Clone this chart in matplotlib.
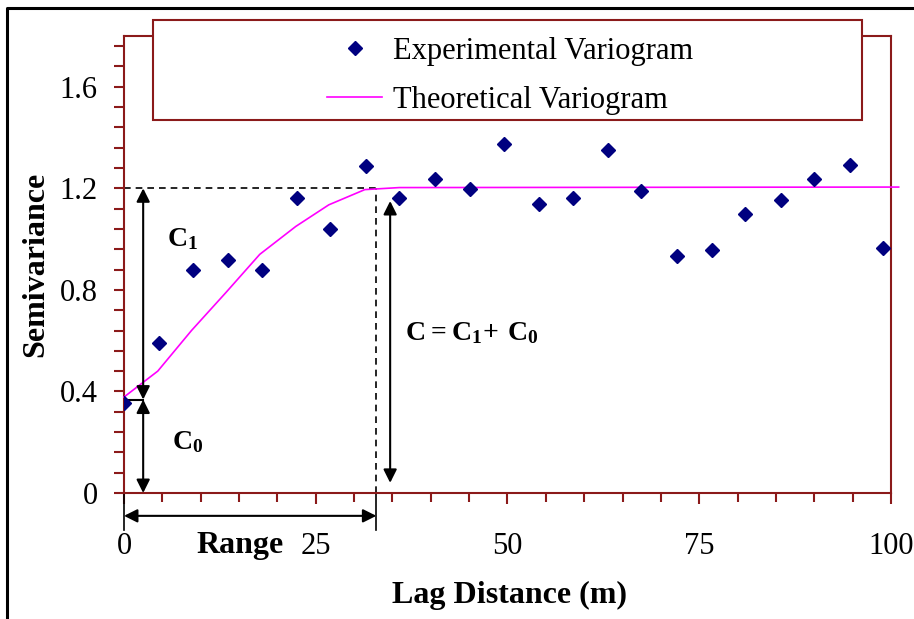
import matplotlib
matplotlib.use('Agg')
import matplotlib.pyplot as plt
from matplotlib.ticker import MultipleLocator
from matplotlib.patches import Rectangle
from matplotlib.lines import Line2D

plt.rcParams['font.family'] = ['Liberation Serif', 'DejaVu Serif']
plt.rcParams['mathtext.fontset'] = 'custom'
plt.rcParams['mathtext.rm'] = 'Liberation Serif'
plt.rcParams['mathtext.bf'] = 'Liberation Serif:bold'

# Experimental variogram
lag = [0, 4.6, 9.0, 13.6, 18.0, 22.6, 26.9, 31.5, 35.9, 40.5, 45.1, 49.5,
       54.1, 58.5, 63.1, 67.4, 72.1, 76.6, 81.0, 85.6, 90.0, 94.6, 98.9]
gamma = [0.353, 0.589, 0.877, 0.916, 0.877, 1.162, 1.039, 1.286, 1.162,
         1.236, 1.197, 1.375, 1.140, 1.163, 1.350, 1.188, 0.933, 0.958,
         1.097, 1.153, 1.236, 1.293, 0.966]

# Theoretical (fitted) variogram
model_lag = [0, 4.4, 8.8, 13.3, 17.7, 22.4, 26.7, 31.4, 35.9, 101]
model_gamma = [0.378, 0.48, 0.64, 0.79, 0.94, 1.05, 1.135, 1.195, 1.203, 1.205]

# model parameters used for the annotations
nugget = 0.368
sill = 1.2
vrange = 32.9

maroon = '#8B1A1A'

fig = plt.figure(figsize=(9.14, 6.19), dpi=100)
ax = fig.add_axes([124 / 914, 1 - 493 / 619, 767 / 914, 457 / 619])

ax.plot(lag, gamma, linestyle='none', marker='D', markersize=7,
        color='#000080', label='Experimental Variogram', zorder=4)
ax.plot(model_lag, model_gamma, color='#FF00FF', lw=1.2,
        label='Theoretical Variogram', clip_on=False, zorder=3)

ax.set_xlim(0, 100)
ax.set_ylim(0, 1.8)
ax.xaxis.set_major_locator(MultipleLocator(25))
ax.xaxis.set_minor_locator(MultipleLocator(5))
ax.set_yticks([0, 0.4, 0.8, 1.2, 1.6])
ax.set_yticklabels(['0', '0.4', '0.8', '1.2', '1.6'])
ax.yaxis.set_minor_locator(MultipleLocator(0.08))

for s in ax.spines.values():
    s.set_color(maroon)
    s.set_linewidth(1.5)
ax.tick_params(which='both', direction='out', color=maroon, width=1.5,
               labelsize=22)
ax.tick_params(axis='y', which='both', length=7, pad=12)
ax.tick_params(axis='x', which='major', length=8, pad=20)
ax.tick_params(axis='x', which='minor', length=6.5)

ax.set_xlabel('Lag Distance (m)', fontsize=23, fontweight='bold')
ax.set_ylabel('Semivariance', fontsize=23, fontweight='bold')
ax.xaxis.label.set_va('center')
ax.yaxis.label.set_va('center')
ax.xaxis.set_label_coords(0.502, (493 - 595) / 457)
ax.yaxis.set_label_coords((36 - 124) / 767, 0.5)

# sill / range guide lines
ax.plot([0, vrange], [sill, sill], 'k--', lw=1.2, dashes=(4, 3))
ax.plot([vrange, vrange], [0, sill], 'k--', lw=1.2, dashes=(4, 3))
ax.plot([0, 0], [0, -0.145], 'k-', lw=1.2, clip_on=False)
ax.plot([vrange, vrange], [0, -0.145], 'k-', lw=1.2, clip_on=False)
ax.plot([0, 2.5], [nugget, nugget], 'k-', lw=1.5)

arrow = dict(arrowstyle='<|-|>', color='black', lw=1.5,
             mutation_scale=20, shrinkA=0, shrinkB=0)
ax.annotate('', xy=(0, -0.09), xytext=(vrange, -0.09),
            arrowprops=arrow, annotation_clip=False)
ax.annotate('', xy=(2.5, sill), xytext=(2.5, nugget), arrowprops=arrow)
ax.annotate('', xy=(2.5, nugget), xytext=(2.5, 0), arrowprops=arrow)
ax.annotate('', xy=(34.7, 1.15), xytext=(34.7, 0.04), arrowprops=arrow)

ax.text(15.1, -0.205, 'Range', fontsize=23, fontweight='bold',
        ha='center', va='center', clip_on=False)
ax.text(5.6, 1.0, r'$\mathbf{C_1}$', fontsize=20, ha='left', va='center')
ax.text(6.2, 0.2, r'$\mathbf{C_0}$', fontsize=20, ha='left', va='center')
ax.text(36.6, 0.63, r'$\mathbf{C = C_1{+}\ C_0}$', fontsize=20,
        ha='left', va='center')

# legend box sitting over the top spine
fig.patches.append(Rectangle((153 / 914, 1 - 120 / 619), 709 / 914, 100 / 619,
                             transform=fig.transFigure, facecolor='white',
                             edgecolor=maroon, lw=1.5, zorder=5))
h, l = ax.get_legend_handles_labels()
leg = fig.legend(h, l, loc='center', frameon=False, fontsize=22,
                 bbox_to_anchor=(510 / 914, 1 - 76 / 619),
                 handlelength=1.8, handletextpad=0.35,
                 labelspacing=0.65, borderpad=0)
leg.set_zorder(6)

# outer border (left and top)
fig.lines.append(Line2D([7 / 914, 7 / 914, 1], [0, 1 - 8 / 619, 1 - 8 / 619],
                        transform=fig.transFigure, color='black', lw=2.2))

fig.savefig('out.png', dpi=100)
